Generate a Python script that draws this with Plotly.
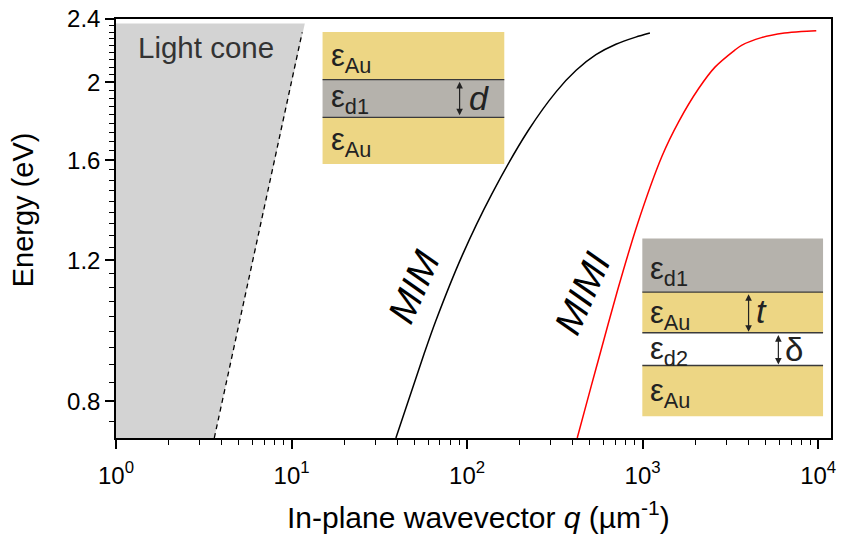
import numpy as np
import plotly.graph_objects as go

# ---------------- data ----------------
mim_q = [39.3, 56.9, 66.2, 93.7, 138, 223, 322, 418, 542, 704, 913, 1100]
mim_E = [0.72, 0.917, 1.007, 1.216, 1.450, 1.742, 1.948, 2.071, 2.166, 2.232, 2.278, 2.305]

mimi_q = [424, 508, 555, 719, 933, 1292, 1603, 2080, 2583, 3352, 3658, 4746, 6427, 8000, 9750]
mimi_E = [0.72, 0.834, 0.895, 1.10, 1.33, 1.62, 1.786, 1.964, 2.09, 2.195, 2.225, 2.275, 2.305, 2.316, 2.321]

cone_q = [1.0, 3.63, 11.9, 1.0]
cone_E = [0.72, 0.72, 2.37, 2.37]
light_q = [3.63, 11.5]
light_E = [0.72, 2.31]

y_major = [0.8, 1.2, 1.6, 2.0, 2.4]
y_labels = ["0.8", "1.2", "1.6", "2", "2.4"]
x_major = [1, 10, 100, 1000, 10000]
x_labels = ["10<sup>0</sup>", "10<sup>1</sup>", "10<sup>2</sup>", "10<sup>3</sup>", "10<sup>4</sup>"]

# ---------------- layout helpers ----------------
W, H = 841, 536
L, R, T, B = 116, 836, 16, 438
FONT = "Arial, Liberation Sans, sans-serif"
GOLD = "#EDD684"
GRAY = "#B5B2AC"


def px(x):
    return (x - L) / (R - L)


def py(y):
    return (B - y) / (B - T)


y_minor = []
for a, b in zip([0.8 - 0.4] + y_major[:-1], y_major):
    for k in range(1, 9):
        v = a + (b - a) * k / 9
        if 0.72 <= v <= 2.4:
            y_minor.append(v)
x_minor = [d * 10 ** k for k in range(0, 4) for d in range(2, 10)]

fig = go.Figure()
fig.add_trace(go.Scatter(x=cone_q, y=cone_E, fill="toself", fillcolor="#D3D3D3",
                         line=dict(width=0), mode="lines", hoverinfo="skip"))
fig.add_trace(go.Scatter(x=light_q, y=light_E, mode="lines",
                         line=dict(color="black", width=1.3, dash="5px,4px")))
fig.add_trace(go.Scatter(x=mim_q, y=mim_E, mode="lines",
                         line=dict(color="black", width=1.5, shape="spline", smoothing=0.8)))
fig.add_trace(go.Scatter(x=mimi_q, y=mimi_E, mode="lines",
                         line=dict(color="#FF0000", width=1.5, shape="spline", smoothing=0.8)))

shapes = []
# inset 1
for (y0, y1, c) in [(29, 77, GOLD), (77, 115, GRAY), (115, 162, GOLD)]:
    shapes.append(dict(type="rect", xref="paper", yref="paper", x0=px(324), x1=px(507),
                       y0=py(y1), y1=py(y0), fillcolor=c, line=dict(width=0), layer="above"))
for yy in [77, 115]:
    shapes.append(dict(type="line", xref="paper", yref="paper", x0=px(324), x1=px(507),
                       y0=py(yy), y1=py(yy), line=dict(color="#3a3a3a", width=1.3), layer="above"))
# inset 2
for (y0, y1, c) in [(237, 291, GRAY), (291, 332, GOLD), (332, 365, "white"), (365, 416, GOLD)]:
    shapes.append(dict(type="rect", xref="paper", yref="paper", x0=px(646), x1=px(828),
                       y0=py(y1), y1=py(y0), fillcolor=c, line=dict(width=0), layer="above"))
for yy in [291, 332, 365]:
    shapes.append(dict(type="line", xref="paper", yref="paper", x0=px(646), x1=px(828),
                       y0=py(yy), y1=py(yy), line=dict(color="#3a3a3a", width=1.3), layer="above"))

ann = []


def txt(x, y, s, size, italic=False, color="#222", xanchor="left", angle=0):
    if italic:
        s = "<i>" + s + "</i>"
    ann.append(dict(x=px(x), y=py(y), xref="paper", yref="paper", text=s, showarrow=False,
                    xanchor=xanchor, yanchor="middle", textangle=angle,
                    font=dict(family=FONT, size=size, color=color)))


def darrow(x, y0, y1):
    ann.append(dict(x=px(x), y=py(y1), xref="paper", yref="paper", text="", showarrow=True,
                    ax=0, ay=-(y1 - y0), arrowside="end+start", arrowhead=2, arrowsize=1.1,
                    arrowwidth=1.2, arrowcolor="#222"))


eAu = "ε<sub>Au</sub>"
txt(330, 55, eAu, 31)
txt(330, 97, "ε<sub>d1</sub>", 31)
txt(330, 140, eAu, 31)
txt(469, 96, "d", 34, italic=True, xanchor="left")
darrow(462, 78, 113)

txt(652, 270, "ε<sub>d1</sub>", 31)
txt(652, 314, eAu, 31)
txt(652, 350, "ε<sub>d2</sub>", 31)
txt(652, 393, eAu, 31)
txt(758, 310, "t", 34, italic=True)
darrow(753, 292, 331)
txt(788, 349, "δ", 33)
darrow(783, 333, 364)

txt(207, 45, "Light cone", 29.5, color="#333", xanchor="center")
txt(416, 286, "MIM", 38, italic=True, color="black", xanchor="center", angle=-66)
txt(586, 292, "MIMI", 38, italic=True, color="black", xanchor="center", angle=-66)

# axis titles
txt(22, 208, "Energy (eV)", 29, color="black", xanchor="center", angle=-90)
txt(481, 516, "In-plane wavevector <i>q</i> (µm<sup>-1</sup>)", 30, color="black", xanchor="center")

fig.update_layout(
    width=W, height=H, margin=dict(l=L, r=W - R, t=T, b=H - B),
    paper_bgcolor="white", plot_bgcolor="white", showlegend=False,
    shapes=shapes, annotations=ann,
    font=dict(family=FONT, color="black"),
)
fig.update_xaxes(type="log", range=[0, np.log10(11830)], tickmode="array", tickvals=x_major,
                 ticktext=x_labels, ticks="outside", ticklen=9, tickwidth=1.5, tickcolor="black",
                 ticklabelstandoff=6,
                 showgrid=False, zeroline=False, showline=True, linecolor="black", linewidth=1.5,
                 mirror=True, tickfont=dict(size=24, family=FONT, color="black"),
                 minor=dict(tickmode="array", tickvals=x_minor, ticks="outside", ticklen=5,
                            tickwidth=1.2, tickcolor="black", showgrid=False))
fig.update_yaxes(type="log", range=[np.log10(0.72), np.log10(2.4)], tickmode="array", tickvals=y_major,
                 ticktext=y_labels, ticks="outside", ticklen=9, tickwidth=1.5, tickcolor="black",
                 showgrid=False, zeroline=False, showline=True, linecolor="black", linewidth=1.5,
                 mirror=True, tickfont=dict(size=24, family=FONT, color="black"),
                 minor=dict(tickmode="array", tickvals=y_minor, ticks="outside", ticklen=5,
                            tickwidth=1.2, tickcolor="black", showgrid=False))

fig.write_html("out.html")
